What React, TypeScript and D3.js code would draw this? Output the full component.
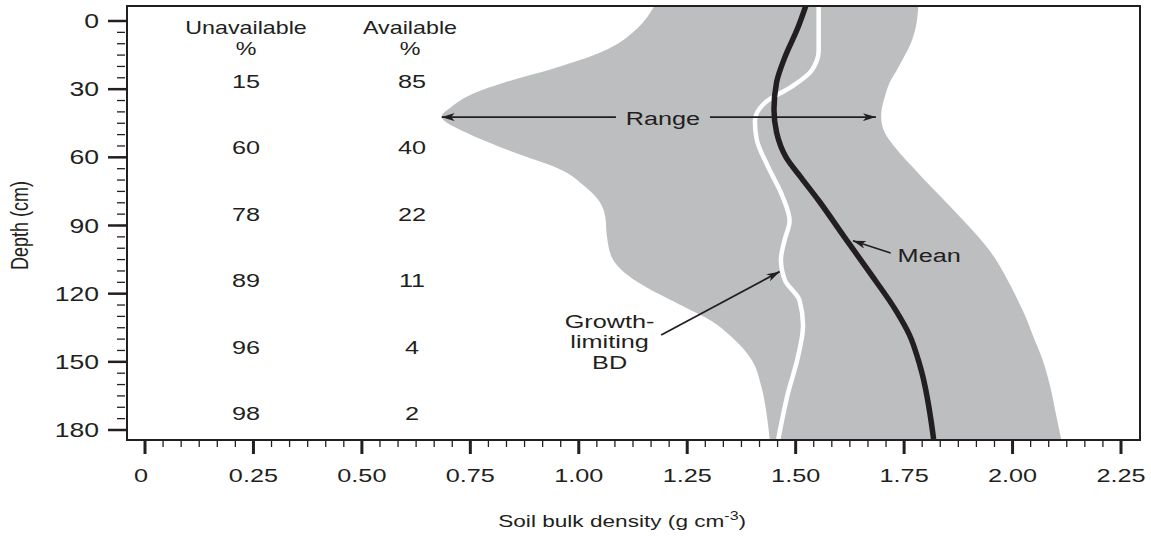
import React from "react";
import * as d3 from "d3";

// range of soil bulk density with depth (grey band)
const rangeDepth = [-7, 5, 10, 15, 21, 27, 33, 38, 42, 49, 57, 66, 73, 79, 86, 95, 104, 111, 116, 126, 132, 139, 149, 161, 173, 184];
const rangeMin = [1.176, 1.125, 1.09, 1.035, 0.94, 0.83, 0.745, 0.705, 0.684, 0.739, 0.839, 0.965, 1.015, 1.046, 1.061, 1.065, 1.076, 1.107, 1.145, 1.245, 1.306, 1.352, 1.398, 1.421, 1.433, 1.44];
const rangeMax = [1.783, 1.774, 1.765, 1.752, 1.735, 1.717, 1.706, 1.699, 1.697, 1.705, 1.735, 1.778, 1.812, 1.843, 1.878, 1.921, 1.958, 1.98, 1.994, 2.02, 2.034, 2.048, 2.069, 2.087, 2.1, 2.112];

// mean bulk density (black line)
const meanDepth = [-7, 3, 16, 27, 39, 49, 60, 69, 79, 95, 110, 128, 138, 152, 184];
const meanBD = [1.524, 1.505, 1.475, 1.456, 1.45, 1.456, 1.478, 1.513, 1.553, 1.612, 1.668, 1.733, 1.762, 1.787, 1.818];

// growth-limiting bulk density (white line)
const limitDepth = [-7, 13, 22, 29, 36, 44, 52, 64, 76, 88, 96, 105, 114, 123, 134, 148, 164, 184];
const limitBD = [1.553, 1.553, 1.536, 1.49, 1.429, 1.406, 1.41, 1.436, 1.467, 1.486, 1.475, 1.466, 1.475, 1.509, 1.517, 1.505, 1.482, 1.46];

// water availability table
const unavailablePct = [15, 60, 78, 89, 96, 98];
const availablePct = [85, 40, 22, 11, 4, 2];

const xTicks = [0, 0.25, 0.5, 0.75, 1, 1.25, 1.5, 1.75, 2, 2.25];
const yTicks = [0, 30, 60, 90, 120, 150, 180];

const W = 1151;
const H = 537;
const frame = { left: 127, top: 6, right: 1140, bottom: 440 };
const ink = "#231f20";
const grey = "#bcbec0";
const SX = 1.33; // the figure is stretched sideways
const font = "'Liberation Sans', Arial, Helvetica, sans-serif";

const x = d3.scaleLinear().domain([0, 2.25]).range([145, 1121]);
const y = d3.scaleLinear().domain([0, 180]).range([21, 430]);

const Txt = ({ px, py, size = 18, anchor = "middle", children }: any) => (
  <text
    transform={`translate(${px},${py}) scale(${SX},1)`}
    fontSize={size}
    textAnchor={anchor}
    fill={ink}
  >
    {children}
  </text>
);

export default function App() {
  const area = d3
    .area<number>()
    .y((d) => y(d))
    .x0((d, i) => x(rangeMin[i]))
    .x1((d, i) => x(rangeMax[i]))
    .curve(d3.curveMonotoneY)(rangeDepth);

  const meanLine = d3
    .line<number>()
    .x((d, i) => x(meanBD[i]))
    .y((d) => y(d))
    .curve(d3.curveMonotoneY)(meanDepth);

  const limitLine = d3
    .line<number>()
    .x((d, i) => x(limitBD[i]))
    .y((d) => y(d))
    .curve(d3.curveMonotoneY)(limitDepth);

  const xMinor = d3.range(0, 2.25 + 1e-6, 0.25 / 6);
  const yMinor = d3.range(0, 180 + 1e-6, 5);

  // annotations
  const rangeY = y(42.3);
  const rangeLabelX = x(1.194);
  const rowDepth = unavailablePct.map((_, i) => 29.5 + i * 29.25);
  const growthX = x(1.071);
  const growthY = y(135.1);

  return (
    <svg
      width={W}
      height={H}
      style={{ position: "absolute", left: 0, top: 0, background: "#fff" }}
      fontFamily={font}
    >
      <defs>
        <clipPath id="plot">
          <rect x={frame.left} y={frame.top} width={frame.right - frame.left} height={frame.bottom - frame.top} />
        </clipPath>
        <marker id="ah" viewBox="0 0 13 8" refX={13} refY={4} markerWidth={13} markerHeight={8} markerUnits="userSpaceOnUse" orient="auto">
          <path d="M0,0 L13,4 L0,8 L3.5,4 Z" fill={ink} />
        </marker>
      </defs>

      <g clipPath="url(#plot)">
        <path d={area || ""} fill={grey} />
        <path d={limitLine || ""} fill="none" stroke="#fff" strokeWidth={4.5} />
        <path d={meanLine || ""} fill="none" stroke={ink} strokeWidth={5.5} />
      </g>

      <rect
        x={frame.left}
        y={frame.top}
        width={frame.right - frame.left}
        height={frame.bottom - frame.top}
        fill="none"
        stroke={ink}
        strokeWidth={2}
      />

      {/* y axis */}
      {yMinor.map((d) => (
        <line key={"ym" + d} x1={117} x2={125} y1={y(d)} y2={y(d)} stroke={ink} strokeWidth={1.3} />
      ))}
      {yTicks.map((d) => (
        <g key={"yt" + d}>
          <line x1={108} x2={frame.left} y1={y(d)} y2={y(d)} stroke={ink} strokeWidth={2.5} />
          <Txt px={99} py={y(d) + 7} size={20} anchor="end">
            {d}
          </Txt>
        </g>
      ))}

      {/* x axis */}
      {xMinor.map((d, i) => (
        <line key={"xm" + i} x1={x(d)} x2={x(d)} y1={frame.bottom} y2={frame.bottom + 7} stroke={ink} strokeWidth={1.3} />
      ))}
      {xTicks.map((d) => (
        <g key={"xt" + d}>
          <line x1={x(d)} x2={x(d)} y1={frame.bottom} y2={frame.bottom + 14} stroke={ink} strokeWidth={3} />
          <Txt px={d === 0 ? x(d) - 4 : x(d)} py={482} size={19}>
            {d === 0 ? "0" : d3.format(".2f")(d)}
          </Txt>
        </g>
      ))}

      {/* axis titles */}
      <text
        transform={`translate(${x(1.1)},527) scale(${SX},1)`}
        fontSize={17}
        textAnchor="middle"
        fill={ink}
      >
        Soil bulk density (g cm
        <tspan fontSize={12} dy={-7}>
          -3
        </tspan>
        <tspan dy={7}>)</tspan>
      </text>
      <text
        transform={`translate(28,${y(90)}) scale(${SX},1) rotate(-90)`}
        fontSize={18}
        textAnchor="middle"
        fill={ink}
      >
        Depth (cm)
      </text>

      {/* table */}
      <Txt px={246} py={34} size={17.5}>Unavailable</Txt>
      <Txt px={246} py={55} size={17.5}>%</Txt>
      <Txt px={410} py={34} size={17.5}>Available</Txt>
      <Txt px={410} py={55} size={17.5}>%</Txt>
      {unavailablePct.map((v, i) => (
        <Txt key={"u" + i} px={246} py={y(rowDepth[i])} size={19}>
          {v}
        </Txt>
      ))}
      {availablePct.map((v, i) => (
        <Txt key={"a" + i} px={412} py={y(rowDepth[i])} size={19}>
          {v}
        </Txt>
      ))}

      {/* Range */}
      <line x1={rangeLabelX - 47} x2={x(0.684)} y1={rangeY} y2={rangeY} stroke={ink} strokeWidth={1.6} markerEnd="url(#ah)" />
      <line x1={rangeLabelX + 47} x2={x(1.685)} y1={rangeY} y2={rangeY} stroke={ink} strokeWidth={1.6} markerEnd="url(#ah)" />
      <Txt px={rangeLabelX} py={rangeY + 8} size={19}>Range</Txt>

      {/* Mean */}
      <line x1={x(1.719)} y1={y(102.1)} x2={x(1.632)} y2={y(96.7)} stroke={ink} strokeWidth={1.6} markerEnd="url(#ah)" />
      <Txt px={x(1.735)} py={y(106.2)} size={19} anchor="start">Mean</Txt>

      {/* Growth-limiting BD */}
      <line x1={x(1.19)} y1={y(138.2)} x2={x(1.463)} y2={y(110.3)} stroke={ink} strokeWidth={1.8} markerEnd="url(#ah)" />
      <Txt px={growthX} py={growthY} size={19}>Growth-</Txt>
      <Txt px={growthX} py={growthY + 20.5} size={19}>limiting</Txt>
      <Txt px={growthX} py={growthY + 41} size={19}>BD</Txt>
    </svg>
  );
}
